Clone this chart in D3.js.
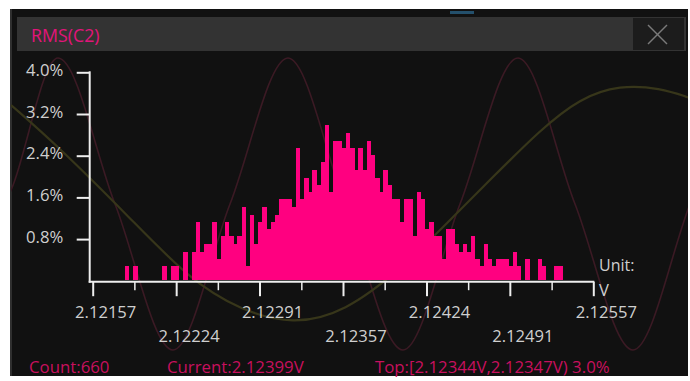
<!DOCTYPE html>
<html><head><meta charset="utf-8">
<script src="https://cdn.jsdelivr.net/npm/d3@7/dist/d3.min.js"></script>
<style>
html,body{margin:0;padding:0;background:#fff;}
svg{display:block;font-family:"Open Sans",sans-serif;}
</style></head><body>
<svg id="c" width="690" height="381"></svg>
<script>
// ---------- data ----------
const titleText = "RMS(C2)";
const unitText = "V";
const xDomain = [2.12157, 2.12557];
const xTickValues = [2.121570, 2.122237, 2.122903, 2.123570, 2.124237, 2.124903, 2.125570];
const xTickLabels = ["2.12157","2.12224","2.12291","2.12357","2.12424","2.12491","2.12557"];
const xMinorTicks = [2.121903, 2.122570, 2.123237, 2.123903, 2.124570, 2.125237];
const yTickValues = [0.8, 1.6, 2.4, 3.2, 4.0];
const yTickLabels = ["0.8%","1.6%","2.4%","3.2%","4.0%"];
const binStart = 2.12157;
const binWidth = 0.004 / 120;
// percent of samples per bin (120 bins)
const binPercent = [
  0,0,0,0,0,0,0,0, .28,0,.28, 0,0,0,0,0,0, .28,0,.28,.28,0,
  .56,0,.56,1.13,.56,.71,.71,1.13,.42,.85,1.13,.85,.71,.85,1.41,.28,1.27,.71,1.13,1.41,.99,1.13,1.27,
  1.56,1.56,1.56,1.41,2.55,1.56,1.98,1.70,2.12,1.84,2.27,2.98,1.70,2.69,2.69,2.55,2.83,2.55,
  2.12,2.55,2.12,2.69,2.41,1.98,1.70,2.12,1.84,1.56,1.56,1.13,1.56,1.56,.85,1.70,1.56,.99,1.13,.85,.85,
  .42,.99,.99,.71,.56,.71,.56,.85,.42,.28,.71,.42,.28,.42,.42,.42,.28,.56,.28,0,.42,0,0,.42,.28,0,0,.28,.28,
  0,0,0,0,0,0,0
];
const footerTexts = ["Count:660", "Current:2.12399V", "Top:[2.12344V,2.12347V) 3.0%"];
// background scope traces
const redTrace = [[-57,204],[0,204],[58,58],[115,204],[173,350],[230,204],[288,58],[345,204],[403,350],[460,204],[518,58],[575,204],[633,350],[690,204],[748,58]];
const oliveTrace = [[11,105],[60,148],[130,218],[190,280],[240,310],[293,325],[345,312],[400,270],[450,220],[490,180],[540,130],[580,98],[620,85],[660,88],[690,98]];

// ---------- drawing ----------
const svg = d3.select("#c");
// panel
svg.append("rect").attr("x",10).attr("y",9).attr("width",678).attr("height",367).attr("fill","#111111");
svg.append("line").attr("x1",11).attr("x2",11).attr("y1",9).attr("y2",376).attr("stroke","#3a3a3a").attr("stroke-width",1.5);
svg.append("rect").attr("x",450).attr("y",11).attr("width",24).attr("height",3).attr("fill","#24506c");

// traces
const lx = d3.scaleLinear().domain([0,690]).range([0,690]);
svg.append("clipPath").attr("id","pc").append("rect").attr("x",11).attr("y",51).attr("width",677).attr("height",325);
svg.append("path").attr("d",d3.line().x(d=>lx(d[0])).y(d=>d[1]).curve(d3.curveMonotoneX)(redTrace))
  .attr("fill","none").attr("stroke","#3b1a24").attr("stroke-width",1.6).attr("clip-path","url(#pc)");
svg.append("path").attr("d",d3.line().x(d=>lx(d[0])).y(d=>d[1]).curve(d3.curveBasis)(oliveTrace))
  .attr("fill","none").attr("stroke","#37361a").attr("stroke-width",2.2).attr("clip-path","url(#pc)");

// title bar
svg.append("rect").attr("x",17).attr("y",17).attr("width",669).attr("height",34).attr("fill","#333333");
svg.append("rect").attr("x",633).attr("y",18).attr("width",51).attr("height",32).attr("fill","#1c1c1c");
svg.append("line").attr("x1",648).attr("y1",25).attr("x2",667).attr("y2",44).attr("stroke","#7a7a7a").attr("stroke-width",1.5);
svg.append("line").attr("x1",667).attr("y1",25).attr("x2",648).attr("y2",44).attr("stroke","#7a7a7a").attr("stroke-width",1.5);
svg.append("text").attr("x",31).attr("y",41.5).attr("font-size",17.8).attr("fill","#e3147a").text(titleText);

// scales
const x = d3.scaleLinear().domain(xDomain).range([92.7, 593.3]);
const y = d3.scaleLinear().domain([0, 4]).range([280.8, 72.3]);

// bars
const bars = svg.append("g").attr("transform","translate(-1.3,0)").attr("shape-rendering","crispEdges");
bars.selectAll("rect").data(binPercent.map((p,i)=>({p,i})).filter(d=>d.p>0)).join("rect")
  .attr("x", d=>x(binStart + d.i*binWidth))
  .attr("width", d=>x(binStart + (d.i+1)*binWidth) - x(binStart + d.i*binWidth) + 0.3)
  .attr("y", d=>y(d.p))
  .attr("height", d=>y(0) - 1 - y(d.p))
  .attr("fill","#ff0080");

// axes
const axisColor = "#eeeeee", labelColor = "#cfcfcf";
const yAxis = svg.append("g").attr("transform","translate(89.7,0)")
  .call(d3.axisLeft(y).tickValues(yTickValues).tickSize(13).tickSizeOuter(0).tickPadding(13.4)
  .tickFormat((d,i)=>yTickLabels[i]));
yAxis.select(".domain").remove();
yAxis.selectAll("line").attr("stroke",axisColor).attr("stroke-width",2);
yAxis.selectAll("text").attr("fill",labelColor).attr("font-size",16.7).attr("font-family","Open Sans").attr("dy","0.18em");
svg.append("line").attr("x1",89.7).attr("x2",89.7).attr("y1",y(4)-1).attr("y2",282.7).attr("stroke",axisColor).attr("stroke-width",2);
svg.append("line").attr("x1",88.7).attr("x2",x(xDomain[1])+1).attr("y1",281.7).attr("y2",281.7).attr("stroke",axisColor).attr("stroke-width",2);

const xAxis = svg.append("g").attr("transform","translate(0,281.7)")
  .call(d3.axisBottom(x).tickValues(xTickValues).tickSize(14.5).tickSizeOuter(0).tickFormat((d,i)=>xTickLabels[i]));
xAxis.select(".domain").remove();
xAxis.selectAll("line").attr("stroke",axisColor).attr("stroke-width",2);
xAxis.selectAll("text").attr("fill",labelColor).attr("font-size",16.6).attr("font-family","Open Sans")
  .attr("dy",0).attr("x",12.5).attr("y",(d,i)=> i%2===0 ? 36.8 : 60.2);
const xMinor = svg.append("g").attr("transform","translate(0,281.7)")
  .call(d3.axisBottom(x).tickValues(xMinorTicks).tickSize(8.5).tickSizeOuter(0).tickFormat(""));
xMinor.select(".domain").remove();
xMinor.selectAll("line").attr("stroke",axisColor).attr("stroke-width",1.5);

svg.append("text").attr("x",599).attr("y",270.5).attr("font-size",16).attr("fill",labelColor).text("Unit:");
svg.append("text").attr("x",599).attr("y",295.5).attr("font-size",16.6).attr("fill",labelColor).text(unitText);

// footer
const footerX = [29, 167, 375];
svg.selectAll("text.ft").data(footerTexts).join("text").attr("class","ft")
  .attr("x",(d,i)=>footerX[i]).attr("y",372.5).attr("font-size",16.8).attr("fill","#c8105e").text(d=>d);
</script>
</body></html>
